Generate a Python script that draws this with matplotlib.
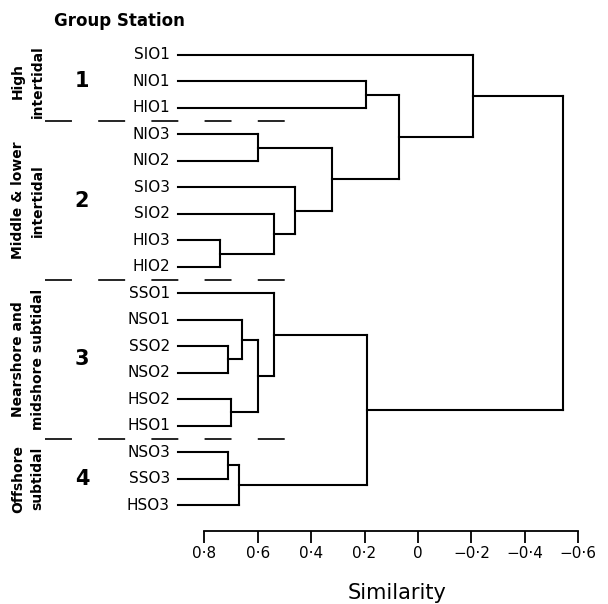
import matplotlib
matplotlib.use("Agg")
import matplotlib.pyplot as plt
import matplotlib.transforms as mtransforms
from matplotlib.lines import Line2D

# ---------------- data ----------------
stations = ["SIO1", "NIO1", "HIO1", "NIO3", "NIO2", "SIO3", "SIO2", "HIO3", "HIO2",
            "SSO1", "NSO1", "SSO2", "NSO2", "HSO2", "HSO1", "NSO3", "SSO3", "HSO3"]

merge_names = ["A", "B", "C", "D", "E", "F", "G", "H", "I",
               "J", "K", "L", "M", "N", "O", "P", "Q"]
merge_left = ["HIO3", "SIO2", "SIO3", "NIO3", "D", "NIO1", "F", "SIO1", "SSO2",
              "NSO1", "HSO2", "J", "SSO1", "NSO3", "N", "M", "H"]
merge_right = ["HIO2", "A", "B", "NIO2", "C", "HIO1", "E", "G", "NSO2",
               "I", "HSO1", "K", "L", "SSO3", "HSO3", "O", "P"]
merge_similarity = [0.74, 0.54, 0.46, 0.60, 0.32, 0.195, 0.07, -0.205, 0.71,
                    0.66, 0.70, 0.60, 0.54, 0.71, 0.67, 0.19, -0.545]

group_numbers = ["1", "2", "3", "4"]
group_names = ["High\nintertidal", "Middle & lower\nintertidal",
               "Nearshore and\nmidshore subtidal", "Offshore\nsubtidal"]
group_sizes = [3, 6, 6, 3]

tick_values = [0.8, 0.6, 0.4, 0.2, 0.0, -0.2, -0.4, -0.6]
tick_labels = ["0·8", "0·6", "0·4", "0·2", "0", "\u22120·2", "\u22120·4", "\u22120·6"]

# ---------------- layout ----------------
W, H = 608, 604
plt.rcParams['font.family'] = ['DejaVu Sans']
plt.rcParams['lines.scale_dashes'] = False
fig = plt.figure(figsize=(W / 100, H / 100), dpi=100)

def fx(px):
    return px / W

def fy(py):
    return 1 - py / H

ax_left, ax_right = 150.9, 599.5
ax_top, ax_bottom = 28.5, 531
ax = fig.add_axes([fx(ax_left), fy(ax_bottom), (ax_right - ax_left) / W, (ax_bottom - ax_top) / H])
ax.set_xlim(1.0, -0.68)
ax.set_ylim(17.98, -1)

leaf_start = 0.9
lw = 1.5
col = "black"

pos_y = {name: i for i, name in enumerate(stations)}
pos_x = {name: leaf_start for name in stations}

for name, l, r, s in zip(merge_names, merge_left, merge_right, merge_similarity):
    for c in (l, r):
        ax.plot([pos_x[c], s], [pos_y[c], pos_y[c]], color=col, lw=lw,
                solid_capstyle='projecting', solid_joinstyle='miter')
    ax.plot([s, s], [pos_y[l], pos_y[r]], color=col, lw=lw,
            solid_capstyle='projecting')
    pos_x[name] = s
    pos_y[name] = (pos_y[l] + pos_y[r]) / 2

# axis styling
for sp in ["top", "left", "right"]:
    ax.spines[sp].set_visible(False)
ax.spines["bottom"].set_bounds(0.8, -0.6)
ax.spines["bottom"].set_linewidth(1.3)
ax.set_xticks(tick_values)
ax.set_xticklabels(tick_labels, fontsize=11)
ax.tick_params(axis='x', direction='out', length=8.5, width=1.3, pad=2.5)
ax.set_yticks([])
ax.patch.set_alpha(0)

# x label
fig.text(fx(397), fy(593), "Similarity", fontsize=15, ha='center', va='center')

# station labels
blend = mtransforms.blended_transform_factory(fig.transFigure, ax.transData)
for i, name in enumerate(stations):
    ax.text(fx(170), i, name, transform=blend, ha='right', va='center',
            fontsize=11, clip_on=False)

# header
fig.text(fx(119), fy(21), "Group Station", fontsize=12, fontweight='bold',
         ha='center', va='center')

# groups
start = 0
for num, gname, size in zip(group_numbers, group_names, group_sizes):
    mid = start + (size - 1) / 2
    ax.text(fx(82), mid, num, transform=blend, ha='center', va='center',
            fontsize=15, fontweight='bold', clip_on=False)
    ax.text(fx(28), mid, gname, transform=blend, ha='center', va='center',
            rotation=90, fontsize=10, fontweight='bold', multialignment='center',
            linespacing=1.5, clip_on=False)
    start += size
    if start < len(stations):
        yb = start - 0.5
        ax.add_line(Line2D([1.397, 0.498], [yb, yb], color=col, lw=1.2,
                           dashes=(19.4, 18.9), clip_on=False))

fig.savefig("out.png", dpi=100)
